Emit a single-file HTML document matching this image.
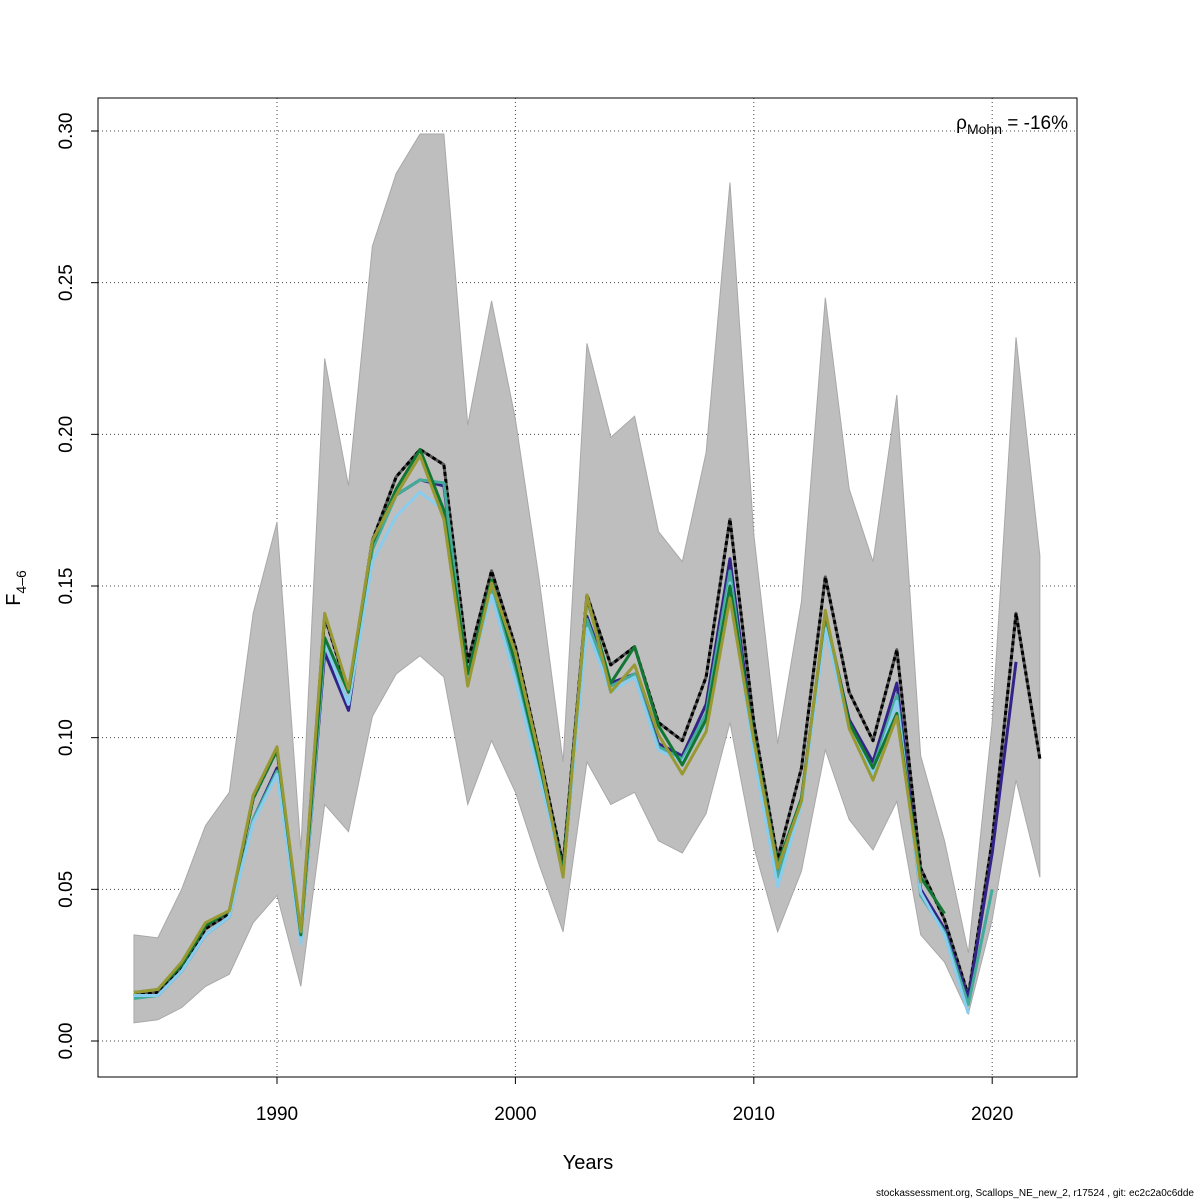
<!DOCTYPE html>
<html><head><meta charset="utf-8"><style>
body{margin:0;background:#fff;}
svg{display:block;font-family:"Liberation Sans",sans-serif;}
</style></head><body>
<svg id="chart" width="1200" height="1200" viewBox="0 0 1200 1200">
<rect x="0" y="0" width="1200" height="1200" fill="#fff"/>
<g id="grid"></g>
<g id="band"></g>
<g id="lines"></g>
<g id="axes"></g>
<rect x="98" y="98" width="979" height="979" fill="none" stroke="#000" stroke-width="1"/>
<text x="588" y="1169" font-size="20" text-anchor="middle">Years</text>
<text transform="translate(20,588) rotate(-90)" font-size="20" text-anchor="middle">F<tspan font-size="14" dy="6">4–6</tspan></text>
<text x="1068" y="129" font-size="19" text-anchor="end">ρ<tspan font-size="14" dy="5">Mohn</tspan><tspan dy="-5"> = -16%</tspan></text>
<text x="1194" y="1196" font-size="10" text-anchor="end">stockassessment.org, Scallops_NE_new_2, r17524 , git: ec2c2a0c6dde</text>
</svg>
<script>
const years=[1984,1985,1986,1987,1988,1989,1990,1991,1992,1993,1994,1995,1996,1997,1998,1999,2000,2001,2002,2003,2004,2005,2006,2007,2008,2009,2010,2011,2012,2013,2014,2015,2016,2017,2018,2019,2020,2021,2022];
const upper=[0.035,0.034,0.05,0.071,0.082,0.141,0.171,0.063,0.225,0.183,0.262,0.286,0.299,0.299,0.203,0.244,0.205,0.152,0.092,0.23,0.199,0.206,0.168,0.158,0.194,0.283,0.167,0.098,0.145,0.245,0.182,0.158,0.213,0.094,0.066,0.029,0.105,0.232,0.16];
const lower=[0.006,0.007,0.011,0.018,0.022,0.039,0.048,0.018,0.078,0.069,0.107,0.121,0.127,0.12,0.078,0.099,0.082,0.058,0.036,0.092,0.078,0.082,0.066,0.062,0.075,0.105,0.064,0.036,0.056,0.096,0.073,0.063,0.079,0.035,0.026,0.009,0.04,0.086,0.054];
const full=[0.015,0.016,0.024,0.037,0.042,0.08,0.096,0.035,0.14,0.115,0.165,0.186,0.195,0.19,0.125,0.155,0.13,0.095,0.058,0.147,0.124,0.13,0.105,0.099,0.12,0.172,0.105,0.06,0.09,0.153,0.115,0.099,0.129,0.057,0.04,0.015,0.066,0.141,0.093];
const peel1=[0.015,0.015,0.023,0.035,0.041,0.073,0.09,0.033,0.128,0.109,0.163,0.18,0.185,0.183,0.118,0.15,0.122,0.09,0.055,0.14,0.118,0.121,0.098,0.094,0.111,0.159,0.098,0.055,0.08,0.14,0.106,0.092,0.118,0.05,0.037,0.014,0.062,0.125];
const peel2=[0.014,0.015,0.023,0.035,0.041,0.073,0.089,0.033,0.131,0.111,0.162,0.18,0.185,0.184,0.119,0.149,0.121,0.089,0.055,0.139,0.117,0.121,0.097,0.093,0.108,0.155,0.096,0.054,0.08,0.138,0.104,0.09,0.114,0.048,0.036,0.012,0.05];
const peel3=[0.015,0.015,0.023,0.035,0.041,0.072,0.088,0.032,0.131,0.111,0.158,0.173,0.181,0.175,0.119,0.147,0.119,0.087,0.056,0.136,0.115,0.12,0.096,0.092,0.105,0.151,0.094,0.051,0.078,0.136,0.103,0.088,0.112,0.049,0.035,0.009];
const peel4=[0.016,0.017,0.025,0.038,0.043,0.08,0.096,0.035,0.133,0.115,0.164,0.182,0.195,0.175,0.121,0.152,0.125,0.092,0.056,0.146,0.118,0.13,0.104,0.091,0.106,0.15,0.1,0.058,0.08,0.141,0.105,0.09,0.108,0.054,0.042];
const peel5=[0.016,0.017,0.026,0.039,0.043,0.081,0.097,0.036,0.141,0.116,0.165,0.18,0.193,0.172,0.117,0.151,0.128,0.094,0.054,0.147,0.115,0.124,0.101,0.088,0.102,0.146,0.099,0.057,0.079,0.142,0.103,0.086,0.107,0.052];
const xTicks=[1990,2000,2010,2020];
const yTicks=[0,0.05,0.1,0.15,0.2,0.25,0.3];
const yTickLabels=["0.00","0.05","0.10","0.15","0.20","0.25","0.30"];

const NS="http://www.w3.org/2000/svg";
const X=y=>277+(y-1990)*23.84;
const Y=v=>1041-v*3033.3;
function mk(tag,attrs,parent){const e=document.createElementNS(NS,tag);for(const k in attrs)e.setAttribute(k,attrs[k]);parent.appendChild(e);return e;}
const grid=document.getElementById('grid'),band=document.getElementById('band'),lines=document.getElementById('lines'),axes=document.getElementById('axes');

xTicks.forEach(t=>{
  const l=mk('line',{x1:X(t),x2:X(t),y1:98,y2:1077,stroke:'#444','stroke-dasharray':'1 3','stroke-width':1},grid);
  
  
  const tk=mk('line',{x1:X(t),x2:X(t),y1:1077,y2:1084,stroke:'#000'},axes);
  
  
  const tx=mk('text',{x:X(t),y:1120,'font-size':19,'text-anchor':'middle'},axes);
  
  
  tx.textContent=t;
});
yTicks.forEach((t,i)=>{
  const l=mk('line',{x1:98,x2:1077,y1:Y(t),y2:Y(t),stroke:'#444','stroke-dasharray':'1 3','stroke-width':1},grid);
  
  
  const tk=mk('line',{x1:91,x2:98,y1:Y(t),y2:Y(t),stroke:'#000'},axes);
  
  
  const tx=mk('text',{transform:`translate(72,${Y(t)}) rotate(-90)`,'font-size':19,'text-anchor':'middle'},axes);
  
  
  tx.textContent=yTickLabels[i];
});

let d='M'+years.map((y,i)=>X(y)+','+Y(upper[i])).join('L');
for(let i=years.length-1;i>=0;i--)d+='L'+X(years[i])+','+Y(lower[i]);
const poly=mk('path',{d:d+'Z',fill:'#bebebe',stroke:'#a8a8a8','stroke-width':1},band);



function line(vals,color,name,w,dash){
  const p=mk('polyline',{points:vals.map((v,i)=>X(years[i])+','+Y(v)).join(' '),fill:'none',stroke:color,'stroke-width':w,'stroke-linejoin':'round'},lines);
  if(dash)p.setAttribute('stroke-dasharray',dash);
  
  
}
line(full,'#555','full-run-line-underlay',3);
line(full,'#000','full-run-line',3,'4 3');
line(peel1,'#332288','peel-1-line',3);
line(peel2,'#44AA99','peel-2-line',3);
line(peel3,'#88CCEE','peel-3-line',3);
line(peel4,'#117733','peel-4-line',3);
line(peel5,'#999933','peel-5-line',3);
</script>
</body></html>
